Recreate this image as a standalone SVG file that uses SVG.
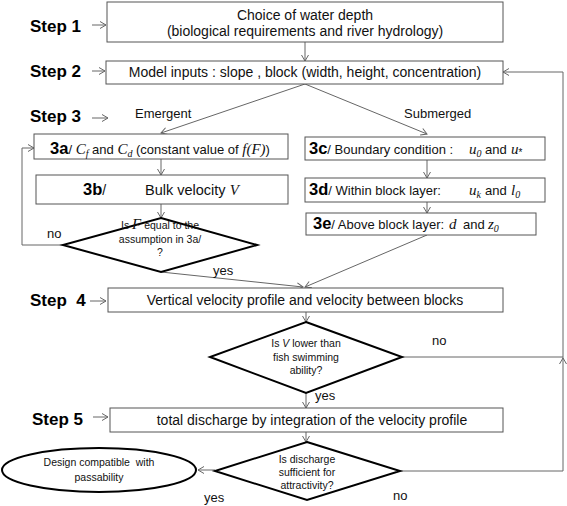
<svg xmlns="http://www.w3.org/2000/svg" width="567" height="506" viewBox="0 0 567 506">
<style>
.box{fill:#fff;stroke:#555;stroke-width:1}
.dia{fill:#fff;stroke:#000;stroke-width:2}
.con{fill:none;stroke:#666;stroke-width:1}
.t{font-family:"Liberation Sans",Arial,sans-serif;font-size:14px;fill:#111}
.t3{font-family:"Liberation Sans",Arial,sans-serif;font-size:13px;fill:#111}
.s{font-family:"Liberation Sans",Arial,sans-serif;font-size:10.5px;fill:#111}
.step{font-family:"Liberation Sans",Arial,sans-serif;font-size:17px;font-weight:bold;fill:#000}
.n{font-family:"Liberation Sans",Arial,sans-serif;font-size:16.5px;font-weight:bold;fill:#000}
.m{font-family:"Liberation Serif","Times New Roman",serif;font-style:italic;font-size:15px}
.sub{font-family:"Liberation Serif","Times New Roman",serif;font-style:italic;font-size:10px}
.lbl{font-family:"Liberation Sans",Arial,sans-serif;font-size:13px;fill:#111}
</style>
<defs>
<marker id="ah" markerUnits="userSpaceOnUse" markerWidth="10" markerHeight="10" refX="7" refY="4" orient="auto">
<path d="M1,0.5 L7,4 L1,7.5" fill="none" stroke="#666" stroke-width="1"/>
</marker>
</defs>

<g id="step-labels">
<text class="step" x="30" y="32">Step 1</text>
<text class="step" x="30" y="77">Step 2</text>
<text class="step" x="30" y="122">Step 3</text>
<text class="step" x="30" y="306" xml:space="preserve">Step  4</text>
<text class="step" x="32" y="425">Step 5</text>
</g>

<g id="connectors">
<line class="con" x1="92" y1="25" x2="106" y2="25" marker-end="url(#ah)"/>
<line class="con" x1="92" y1="71" x2="105" y2="71" marker-end="url(#ah)"/>
<line class="con" x1="92" y1="118" x2="108" y2="118" marker-end="url(#ah)"/>
<line class="con" x1="90" y1="301" x2="106" y2="301" marker-end="url(#ah)"/>
<line class="con" x1="93" y1="417" x2="108" y2="417" marker-end="url(#ah)"/>

<line class="con" x1="305" y1="42" x2="305" y2="61" marker-end="url(#ah)"/>
<line class="con" x1="305" y1="84" x2="161" y2="133" marker-end="url(#ah)"/>
<line class="con" x1="305" y1="84" x2="427" y2="134" marker-end="url(#ah)"/>
<line class="con" x1="161" y1="159" x2="161" y2="175" marker-end="url(#ah)"/>
<line class="con" x1="161" y1="204" x2="161" y2="218" marker-end="url(#ah)"/>
<polyline class="con" points="63,245 22,245 22,148 34,148" marker-end="url(#ah)"/>
<line class="con" x1="427" y1="160" x2="427" y2="178" marker-end="url(#ah)"/>
<line class="con" x1="427" y1="202" x2="427" y2="213" marker-end="url(#ah)"/>
<line class="con" x1="427" y1="235" x2="305" y2="287" marker-end="url(#ah)"/>
<line class="con" x1="161" y1="272" x2="303" y2="287" marker-end="url(#ah)"/>
<line class="con" x1="306" y1="312" x2="306" y2="322" marker-end="url(#ah)"/>
<line class="con" x1="306" y1="393" x2="306" y2="408" marker-end="url(#ah)"/>
<line class="con" x1="306" y1="432" x2="306" y2="442" marker-end="url(#ah)"/>
<line class="con" x1="215" y1="470" x2="198" y2="470" marker-end="url(#ah)"/>
<polyline class="con" points="402,357 563,357"/>
<polyline class="con" points="400,471 563,471 563,358" marker-end="url(#ah)"/>
<polyline class="con" points="563,358 563,72 503,72" marker-end="url(#ah)"/>
</g>

<g id="connector-labels">
<text class="lbl" x="135" y="118">Emergent</text>
<text class="lbl" x="404" y="118">Submerged</text>
<text class="lbl" x="47" y="238">no</text>
<text class="lbl" x="213" y="275">yes</text>
<text class="lbl" x="432" y="345">no</text>
<text class="lbl" x="315" y="400">yes</text>
<text class="lbl" x="204" y="502">yes</text>
<text class="lbl" x="393" y="500">no</text>
</g>

<g id="n1">
<rect class="box" x="107" y="2" width="396" height="40"/>
<text class="t" x="305" y="20" text-anchor="middle">Choice of water depth</text>
<text class="t" x="305" y="36" text-anchor="middle">(biological requirements and river hydrology)</text>
</g>

<g id="n2">
<rect class="box" x="106" y="61" width="397" height="23"/>
<text class="t" x="305" y="77" text-anchor="middle">Model inputs : slope , block (width, height, concentration)</text>
</g>

<g id="n3a">
<rect class="box" x="34" y="134" width="254" height="25"/>
<text class="t3" x="160" y="154" text-anchor="middle" xml:space="preserve"><tspan class="n">3a</tspan><tspan>/ </tspan><tspan class="m">C</tspan><tspan class="sub" dy="3">f</tspan><tspan dy="-3"> and </tspan><tspan class="m">C</tspan><tspan class="sub" dy="3">d</tspan><tspan dy="-3"> (constant value of </tspan><tspan class="m">f(F)</tspan><tspan>)</tspan></text>
</g>

<g id="n3b">
<rect class="box" x="36" y="175" width="252" height="29"/>
<text class="t" y="195" xml:space="preserve"><tspan class="n" x="83">3b</tspan><tspan>/</tspan><tspan x="145" font-size="14.5">Bulk velocity </tspan><tspan class="m">V</tspan></text>
</g>

<g id="d3">
<polygon class="dia" points="161,218 257,245 161,272 63,245"/>
<text class="s" x="160" y="229" text-anchor="middle">Is <tspan class="m" font-size="12">F</tspan> equal to the</text>
<text class="s" x="160" y="243" text-anchor="middle">assumption in 3a/</text>
<text class="s" x="160" y="256" text-anchor="middle">?</text>
</g>

<g id="n3c">
<rect class="box" x="305" y="137" width="240" height="23"/>
<text class="t3" y="154" xml:space="preserve"><tspan class="n" x="309">3c</tspan><tspan>/ Boundary condition :</tspan><tspan class="m" x="469">u</tspan><tspan class="sub" dy="3">0</tspan><tspan dy="-3" x="485">and</tspan><tspan class="m" x="511">u</tspan><tspan font-size="10" dy="2">*</tspan></text>
</g>

<g id="n3d">
<rect class="box" x="305" y="178" width="240" height="24"/>
<text class="t3" y="195" xml:space="preserve"><tspan class="n" x="309">3d</tspan><tspan>/ Within block layer:</tspan><tspan class="m" x="469">u</tspan><tspan class="sub" dy="3">k</tspan><tspan dy="-3" x="485">and</tspan><tspan class="m" x="511">l</tspan><tspan class="sub" dy="3">0</tspan></text>
</g>

<g id="n3e">
<rect class="box" x="306" y="213" width="230" height="22"/>
<text class="t3" y="229" xml:space="preserve"><tspan class="n" x="313">3e</tspan><tspan>/ Above block layer:</tspan><tspan class="m" x="449">d</tspan><tspan x="463">and</tspan><tspan class="m" x="488">z</tspan><tspan class="sub" dy="3">0</tspan></text>
</g>

<g id="n4">
<rect class="box" x="108" y="288" width="395" height="24"/>
<text class="t" x="305" y="305" text-anchor="middle">Vertical velocity profile and velocity between blocks</text>
</g>

<g id="d4">
<polygon class="dia" points="306,322 402,357 306,393 210,357"/>
<text class="s" x="306" y="347" text-anchor="middle">Is <tspan font-style="italic">V</tspan> lower than</text>
<text class="s" x="306" y="361" text-anchor="middle">fish swimming</text>
<text class="s" x="306" y="374" text-anchor="middle">ability?</text>
</g>

<g id="n5">
<rect class="box" x="110" y="408" width="393" height="24"/>
<text class="t" x="312" y="425" text-anchor="middle">total discharge by integration of the velocity profile</text>
</g>

<g id="d5">
<polygon class="dia" points="307,442 400,471 307,500 215,471"/>
<text class="s" x="307" y="463" text-anchor="middle">Is discharge</text>
<text class="s" x="307" y="476" text-anchor="middle">sufficient for</text>
<text class="s" x="307" y="489" text-anchor="middle">attractivity?</text>
</g>

<g id="end">
<ellipse cx="99" cy="470" rx="97" ry="22" fill="#fff" stroke="#000" stroke-width="2"/>
<text class="s" x="99" y="466" text-anchor="middle" xml:space="preserve">Design compatible  with</text>
<text class="s" x="99" y="481" text-anchor="middle">passability</text>
</g>
</svg>
